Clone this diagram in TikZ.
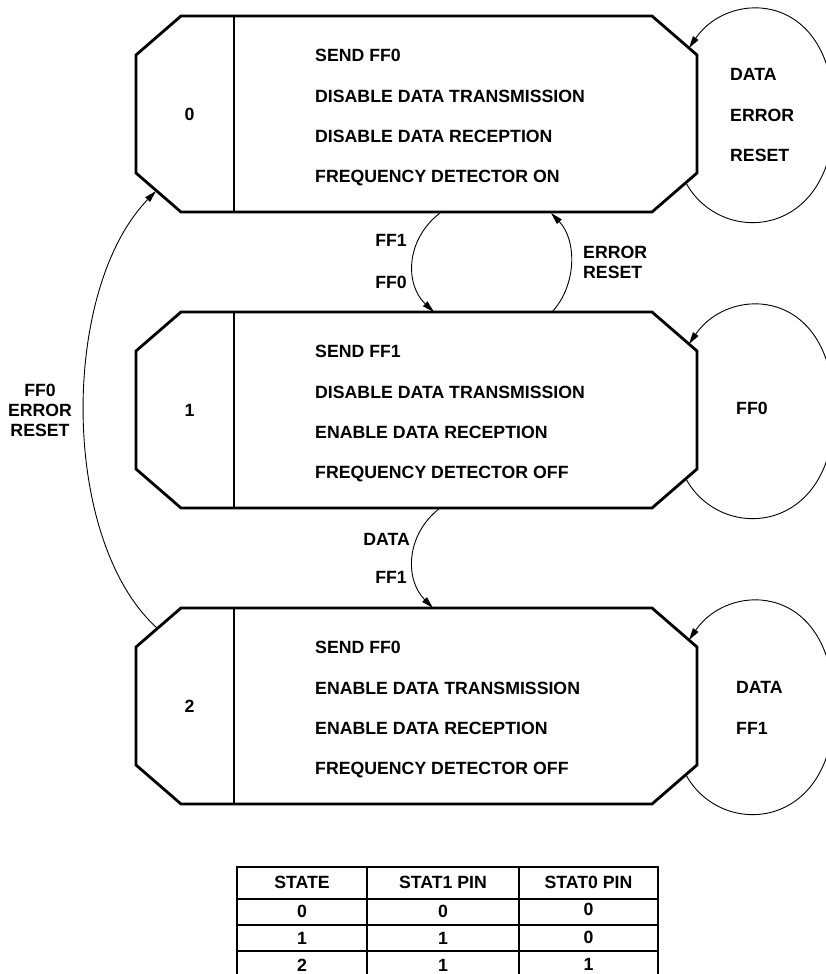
\documentclass[tikz,border=0pt]{standalone}
\usepackage{fontspec}
\setmainfont{Liberation Sans}
\usetikzlibrary{arrows.meta}
\newcommand\statebox[7]{%
  \draw[boxline] (181,#1) -- (652,#1) -- (697,#1+39) -- (697,#1+157) -- (652,#1+196) -- (181,#1+196) -- (136,#1+157) -- (136,#1+39) -- cycle;
  \draw[divline] (234,#1) -- (234,#1+196);
  \node[lbl] (#2num) at (189.5,#1+98) {#3};
  \node[lbl,anchor=west] (#2a) at (315,#1+39) {#4};
  \node[lbl,anchor=west] (#2b) at (315,#1+80) {#5};
  \node[lbl,anchor=west] (#2c) at (315,#1+120) {#6};
  \node[lbl,anchor=west] (#2d) at (315,#1+160) {#7};
  \coordinate (#2se) at (686,#1+167);
  \coordinate (#2ne) at (689,#1+32);
  \coordinate (#2lr) at (834,#1+100);
  \draw[conn] (#2se) .. controls (722,#1+232) and (834,#1+222) .. (#2lr) .. controls (834,#1-25) and (730,#1-28) .. (#2ne);
}
\begin{document}
\begin{tikzpicture}[x=1pt,y=-1pt,
  lbl/.style={font=\bfseries\fontsize{17.7}{19}\selectfont, inner sep=0pt, text height=12.7pt, text depth=0pt},
  lblm/.style={font=\bfseries\fontsize{17.7}{19.5}\selectfont, inner sep=0pt},
  tlbl/.style={font=\bfseries\fontsize{17.7}{19}\selectfont, inner sep=0pt, text height=12.7pt, text depth=0pt},
  boxline/.style={line width=2.8pt, line join=miter},
  divline/.style={line width=1.3pt},
  conn/.style={line width=0.9pt, -{Triangle[length=12pt,width=6.5pt]}},
  tabline/.style={line width=1.3pt},
]
\useasboundingbox (0,0) rectangle (825,974);

\statebox{16}{sA}{0}{SEND FF0}{DISABLE DATA TRANSMISSION}{DISABLE DATA RECEPTION}{FREQUENCY DETECTOR ON}
\statebox{312}{sB}{1}{SEND FF1}{DISABLE DATA TRANSMISSION}{ENABLE DATA RECEPTION}{FREQUENCY DETECTOR OFF}
\statebox{608}{sC}{2}{SEND FF0}{ENABLE DATA TRANSMISSION}{ENABLE DATA RECEPTION}{FREQUENCY DETECTOR OFF}

% self-loop labels
\node[lbl,anchor=west] (lA1) at (730,74) {DATA};
\node[lbl,anchor=west] (lA2) at (730,115) {ERROR};
\node[lbl,anchor=west] (lA3) at (730,155) {RESET};
\node[lbl,anchor=west] (lB1) at (736,408) {FF0};
\node[lbl,anchor=west] (lC1) at (736,687) {DATA};
\node[lbl,anchor=west] (lC2) at (736,728) {FF1};

% transitions between states
\coordinate (sAb1) at (440,213);
\coordinate (sBt1) at (434,312);
\coordinate (sBt2) at (552,312);
\coordinate (sAb2) at (551,213);
\coordinate (sBb1) at (440,508);
\coordinate (sCt1) at (433,608);
\coordinate (sCtl) at (157,628);
\coordinate (sAbl) at (156,191);

\draw[conn] (sAb1) .. controls (405,240) and (405,285) .. (sBt1);
\draw[conn] (sBt2) .. controls (577,285) and (577,240) .. (sAb2);
\draw[conn] (sBb1) .. controls (405,535) and (405,580) .. (sCt1);
\draw[conn] (sCtl) .. controls (60,540) and (60,290) .. (sAbl);

\node[lbl,anchor=east] (tAB1) at (407,240) {FF1};
\node[lbl,anchor=east] (tAB2) at (407,282) {FF0};
\node[lblm,anchor=west,align=left] (tBA) at (583,262.5) {ERROR\\RESET};
\node[lbl,anchor=east] (tBC1) at (410,539) {DATA};
\node[lbl,anchor=east] (tBC2) at (407,577) {FF1};
\node[lblm,align=center] (tCA) at (40,410) {FF0\\[0.5pt]ERROR\\[0.5pt]RESET};

% table
\draw[tabline] (237,867) rectangle (658,978);
\draw[tabline] (237,899) -- (658,899);
\draw[tabline] (237,925) -- (658,925);
\draw[tabline] (237,951) -- (658,951);
\draw[tabline] (367,867) -- (367,978);
\draw[tabline] (519,867) -- (519,978);

\node[tlbl] (h1) at (302,882) {STATE};
\node[tlbl] (h2) at (443,882) {STAT1 PIN};
\node[tlbl] (h3) at (588.5,882) {STAT0 PIN};
\node[tlbl] (r11) at (302,911) {0};
\node[tlbl] (r12) at (443,911) {0};
\node[tlbl] (r13) at (588.5,909) {0};
\node[tlbl] (r21) at (302,938.5) {1};
\node[tlbl] (r22) at (443,938.5) {1};
\node[tlbl] (r23) at (588.5,937) {0};
\node[tlbl] (r31) at (302,965.5) {2};
\node[tlbl] (r32) at (443,965.5) {1};
\node[tlbl] (r33) at (588.5,964.5) {1};
\end{tikzpicture}
\end{document}
